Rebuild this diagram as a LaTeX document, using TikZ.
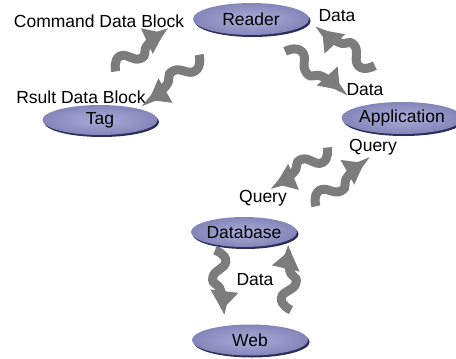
\documentclass[tikz,border=0pt]{standalone}
\usepackage{fontspec}
\setmainfont{Liberation Sans}
\usetikzlibrary{shapes.geometric,arrows.meta,calc,shadows}
\definecolor{ellin}{HTML}{ABABD8}
\definecolor{ellout}{HTML}{8585BA}
\definecolor{ellshadow}{HTML}{2E2E5A}
\definecolor{wavegray}{HTML}{7C7C7C}
\tikzset{
  ellnode/.style={ellipse, inner sep=0pt, inner color=ellin, outer color=ellout,
    draw=none, font=\fontsize{17.5}{19}\selectfont,
    drop shadow={shadow xshift=1.6pt, shadow yshift=-2pt, opacity=1, fill=ellshadow}},
  lbl/.style={font=\fontsize{17.5}{19}\selectfont, inner sep=0pt},
  wavearrow/.style={draw=wavegray, line width=9pt,
    -{Triangle[length=19pt,width=27pt]}}
}
\newcommand\wavearr[2]{%
  \draw[wavearrow] plot[smooth, tension=1] coordinates {
    ($(#1)!-3pt!90:(#2)$)
    ($(#1)!0.2!(#2)!7pt!90:(#2)$)
    ($(#1)!0.45!(#2)!-7pt!90:(#2)$)
    ($(#1)!0.68!(#2)!0pt!90:(#2)$)
    (#2)};}
\begin{document}
\begin{tikzpicture}[x=1pt,y=-1pt]
\useasboundingbox (0,0) rectangle (456,359);
% nodes
\node[ellnode, minimum width=116pt, minimum height=32pt] (reader) at (251,19) {Reader};
\node[ellnode, minimum width=115pt, minimum height=30pt] (tag) at (100,120) {Tag};
\node[ellnode, minimum width=102pt, minimum height=32pt] (app) at (402,118) {Application};
\node[ellnode, minimum width=103pt, minimum height=30pt] (db) at (244,232) {Database};
\node[ellnode, minimum width=116pt, minimum height=31pt] (web) at (250,340) {Web};
% labels
\node[lbl] (lcmd) at (99,21) {Command Data Block};
\node[lbl] (lrs) at (81,97) {Rsult Data Block};
\node[lbl] (ldata1) at (337,16) {Data};
\node[lbl] (ldata2) at (365,90) {Data};
\node[lbl] (lq1) at (373,147) {Query};
\node[lbl] (lq2) at (263,198) {Query};
\node[lbl] (ldata3) at (255,280) {Data};
% arrow end points
\coordinate (c1s) at (114,69);  \coordinate (c1e) at (164,33);
\coordinate (c2s) at (201,57);  \coordinate (c2e) at (149,100);
\coordinate (c3s) at (287,49);  \coordinate (c3e) at (340,90);
\coordinate (c4s) at (373,68);  \coordinate (c4e) at (322,30);
\coordinate (c5s) at (329,150); \coordinate (c5e) at (276,184);
\coordinate (c6s) at (314,204); \coordinate (c6e) at (364,163);
\coordinate (c7s) at (218,250); \coordinate (c7e) at (222,310);
\coordinate (c8s) at (288,310); \coordinate (c8e) at (290,250);
% wavy arrows
\wavearr{c1s}{c1e}
\wavearr{c2s}{c2e}
\wavearr{c3s}{c3e}
\wavearr{c4s}{c4e}
\wavearr{c5s}{c5e}
\wavearr{c6s}{c6e}
\wavearr{c7s}{c7e}
\wavearr{c8s}{c8e}
\end{tikzpicture}
\end{document}
